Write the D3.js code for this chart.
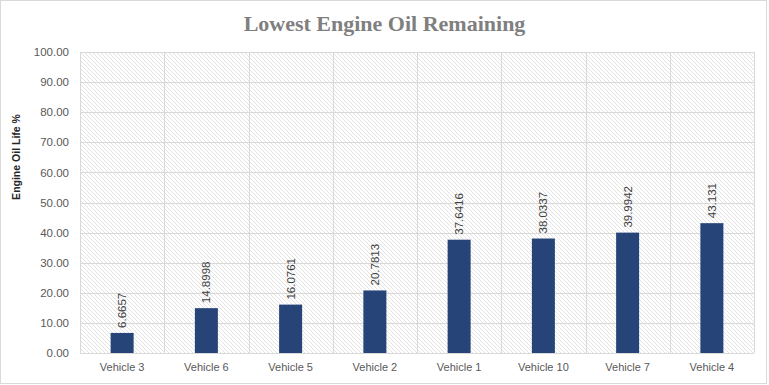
<!DOCTYPE html>
<html><head><meta charset="utf-8">
<script src="https://cdn.jsdelivr.net/npm/d3@7"></script>
<style>body{margin:0;background:#fff}svg{display:block}</style>
</head><body>
<script>
const categories = ["Vehicle 3","Vehicle 6","Vehicle 5","Vehicle 2","Vehicle 1","Vehicle 10","Vehicle 7","Vehicle 4"];
const values = [6.6657,14.8998,16.0761,20.7813,37.6416,38.0337,39.9942,43.131];
const valueLabels = ["6.6657","14.8998","16.0761","20.7813","37.6416","38.0337","39.9942","43.131"];
const yTicks = [0,10,20,30,40,50,60,70,80,90,100];
const title = "Lowest Engine Oil Remaining";
const yTitle = "Engine Oil Life %";

const W = 769, H = 385;
const m = {left:80, right:15, top:52, bottom:32};
const svg = d3.select("body").append("svg").attr("width",W).attr("height",H);
const defs = svg.append("defs");
const pat = defs.append("pattern").attr("id","hatch").attr("patternUnits","userSpaceOnUse")
  .attr("width",4).attr("height",4);
pat.append("rect").attr("width",4).attr("height",4).attr("fill","#fff");
pat.append("path").attr("d","M-1,-1 L5,5 M-1,3 L1,5 M3,-1 L5,1").attr("stroke","#dcdcdc").attr("stroke-width",0.8);

svg.append("rect").attr("x",0.5).attr("y",0.5).attr("width",W-3).attr("height",H-2)
  .attr("fill","#fff").attr("stroke","#d9d9d9");

const x = d3.scaleBand().domain(categories).range([m.left, W-m.right]).paddingInner(0).paddingOuter(0);
const y = d3.scaleLinear().domain([0,100]).range([H-m.bottom, m.top]);

svg.append("rect").attr("x",m.left).attr("y",m.top).attr("width",W-m.right-m.left)
  .attr("height",H-m.bottom-m.top).attr("fill","url(#hatch)");

// horizontal grid
svg.append("g").selectAll("line").data(yTicks).join("line")
  .attr("x1",m.left).attr("x2",W-m.right)
  .attr("y1",d=>Math.round(y(d))+0.5).attr("y2",d=>Math.round(y(d))+0.5)
  .attr("stroke","#d9d9d9");
// vertical grid
const bounds = categories.map(c=>x(c)).concat([W-m.right]);
svg.append("g").selectAll("line").data(bounds).join("line")
  .attr("x1",d=>Math.round(d)+0.5).attr("x2",d=>Math.round(d)+0.5)
  .attr("y1",m.top).attr("y2",H-m.bottom)
  .attr("stroke","#d9d9d9");

// y axis labels
const yAxis = d3.axisLeft(y).tickValues(yTicks).tickFormat(d3.format(".2f")).tickSize(0).tickPadding(11);
const ga = svg.append("g").attr("transform",`translate(${m.left},0)`).call(yAxis);
ga.select(".domain").remove();
ga.selectAll("text").attr("font-family","Liberation Sans, Arial, sans-serif").attr("font-size",11.5).attr("fill","#595959");

// x axis labels
const xAxis = d3.axisBottom(x).tickSize(0).tickPadding(10);
const gx = svg.append("g").attr("transform",`translate(0,${H-m.bottom})`).call(xAxis);
gx.select(".domain").remove();
gx.selectAll("text").attr("font-family","Liberation Sans, Arial, sans-serif").attr("font-size",11).attr("fill","#595959");

// bars
const bw = 23;
svg.append("g").selectAll("rect").data(values).join("rect")
  .attr("x",(d,i)=>x(categories[i])+x.bandwidth()/2-bw/2)
  .attr("width",bw)
  .attr("y",d=>y(d)).attr("height",d=>y(0)-y(d))
  .attr("fill","#264478");

// value labels
svg.append("g").selectAll("text").data(values).join("text")
  .attr("transform",(d,i)=>`translate(${x(categories[i])+x.bandwidth()/2+4},${y(d)-5}) rotate(-90)`)
  .attr("font-family","Liberation Sans, Arial, sans-serif").attr("font-size",11.5).attr("fill","#404040")
  .text((d,i)=>valueLabels[i]);

// title
svg.append("text").attr("x",W/2).attr("y",31).attr("text-anchor","middle")
  .attr("font-family","Liberation Serif, serif").attr("font-weight","bold").attr("font-size",22)
  .attr("fill","#7f7f7f").text(title);

// y title
svg.append("text").attr("transform","translate(20,157) rotate(-90)").attr("text-anchor","middle")
  .attr("font-family","Liberation Sans, Arial, sans-serif").attr("font-weight","bold").attr("font-size",10.5)
  .attr("fill","#262626").text(yTitle);
</script>
</body></html>
